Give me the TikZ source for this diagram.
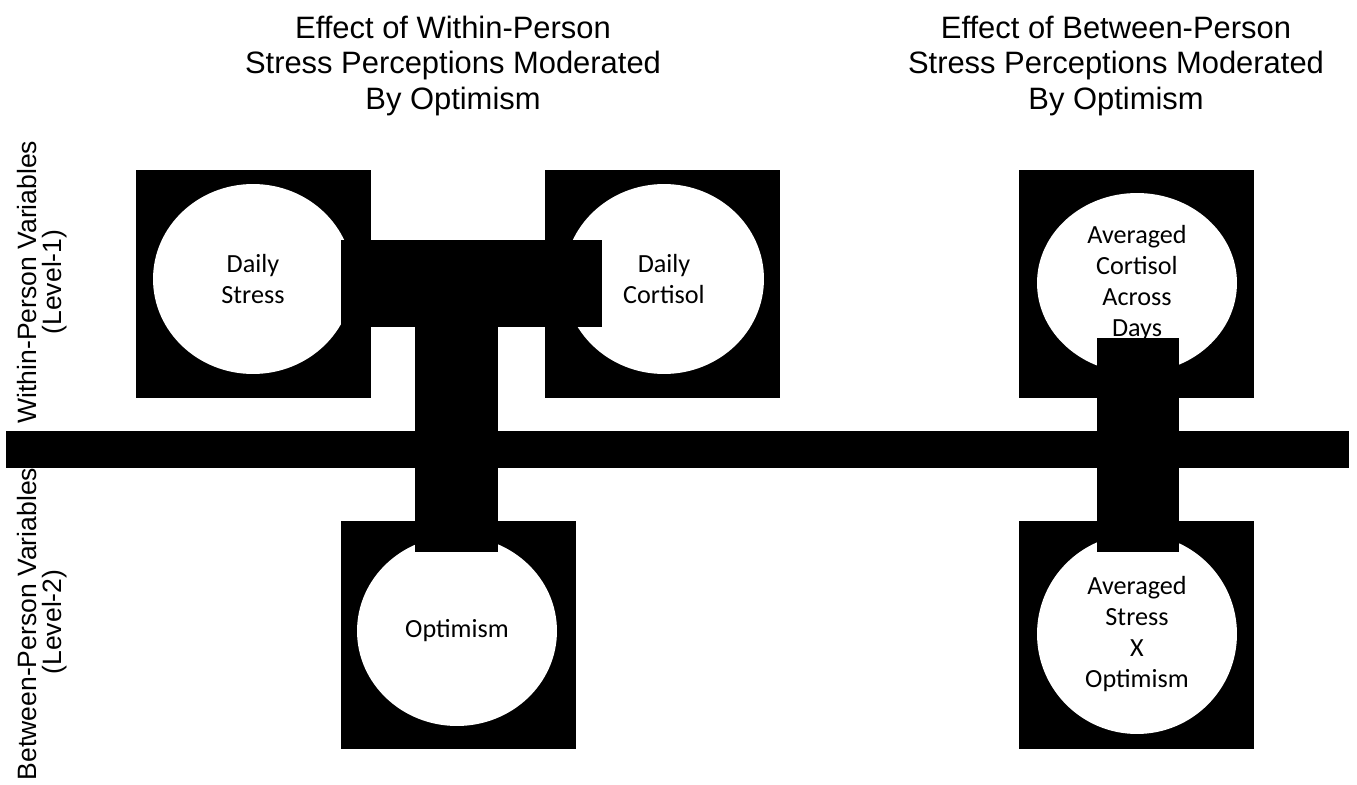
\documentclass[tikz,border=0pt]{standalone}
\usepackage{fontspec}
\setmainfont{Liberation Sans}
\newfontfamily\calibri{Carlito}
\usetikzlibrary{shapes.geometric}

\tikzset{
  blk/.style = {fill = black, draw = none, inner sep = 0,
    minimum width = 4.7cm, minimum height = 4.56cm},
  bub/.style = {ellipse, fill = white, draw = none, inner sep = 0,
    minimum width = 4cm, minimum height = 3.8cm, align = center,
    font = \calibri\fontsize{14.9}{17.6}\selectfont},
  ttl/.style = {align = center, font = \fontsize{17.6}{20.4}\selectfont},
  side/.style = {rotate = 90, font = \fontsize{15.1}{18}\selectfont}
}

\begin{document}
\begin{tikzpicture}[x = 0.02cm, y = -0.02cm]
  \useasboundingbox (0, 0) rectangle (1357, 785);

  % black squares behind the variables
  \foreach \nm/\cx/\cy in {dsbox/253.5/284, dcbox/662.5/284, opbox/458.5/635,
    acbox/1136.5/284, asbox/1136.5/635}{
    \node[blk] (\nm) at (\cx, \cy) {};
  }

  \node[bub] (ds) at (253, 279) {Daily\\Stress};
  \node[bub] (dc) at (664, 279) {Daily\\Cortisol};
  \node[bub] (op) at (457, 631) {Optimism};
  \node[bub, minimum height = 3.6cm] (ac) at (1137, 283) {Averaged\\Cortisol\\Across\\Days};
  \node[bub, minimum height = 4cm] (as) at (1137, 634) {Averaged\\Stress\\X\\Optimism};

  \pgfmathsetmacro{\stemL}{415}
  \pgfmathsetmacro{\stemR}{498}

  % within-person link: stress -> cortisol, with optimism below
  \fill (341, 240) rectangle (602, 327);
  \fill (\stemL, 240) rectangle (\stemR, 552);

  % between-person link
  \fill (1097, 338) rectangle (1179, 552);

  % level-1 / level-2 divider
  \fill (6, 431) rectangle (1349, 468);

  \node[ttl] (wtitle) at (453, 66) {Effect of Within-Person\\Stress Perceptions Moderated\\By Optimism};
  \node[ttl] (btitle) at (1116, 66) {Effect of Between-Person\\Stress Perceptions Moderated\\By Optimism};

  \node[side] (wlab) at (27, 282) {Within-Person Variables};
  \node[side] (wlev) at (55, 282) {(Level-1)};
  \node[side] (blab) at (27, 624) {Between-Person Variables};
  \node[side] (blev) at (55, 622) {(Level-2)};
\end{tikzpicture}
\end{document}
